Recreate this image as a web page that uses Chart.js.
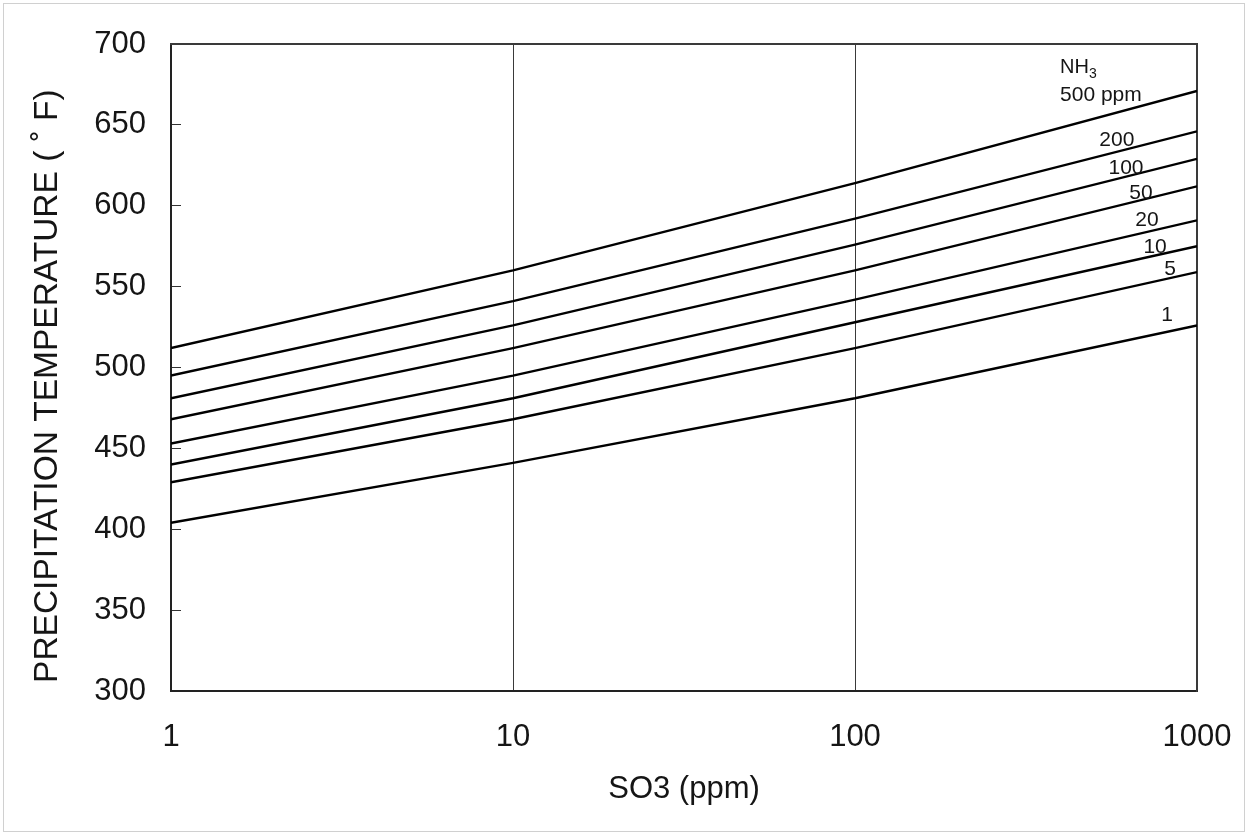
<!DOCTYPE html>
<html>
<head>
<meta charset="utf-8">
<script src="https://cdn.jsdelivr.net/npm/chart.js@4.4.1/dist/chart.umd.min.js"></script>
<style>
  html, body { margin: 0; padding: 0; background: #ffffff; }
  #wrap { position: relative; width: 1249px; height: 836px; }
  #frame { position: absolute; left: 3px; top: 3px; width: 1240px; height: 827px;
           border: 1px solid #d0d0d0; pointer-events: none; }
  canvas { display: block; }
</style>
</head>
<body>
<div id="wrap">
  <canvas id="chart" width="1249" height="836"></canvas>
  <div id="frame"></div>
</div>
<script>
// SO3 concentration (ppm) on the log axis
const so3Ppm = [1, 10, 100, 1000];

// Precipitation temperature (°F) for each NH3 concentration
const nh3_500 = [512, 560, 614, 671];
const nh3_200 = [495, 541, 592, 646];
const nh3_100 = [481, 526, 576, 629];
const nh3_50  = [468, 512, 560, 612];
const nh3_20  = [453, 495, 542, 591];
const nh3_10  = [440, 481, 528, 575];
const nh3_5   = [429, 468, 512, 559];
const nh3_1   = [404, 441, 481, 526];

const yTicks = [300, 350, 400, 450, 500, 550, 600, 650, 700];
const xTicks = [1, 10, 100, 1000];

const seriesNames = ['500 ppm', '200', '100', '50', '20', '10', '5', '1'];
const seriesValues = [nh3_500, nh3_200, nh3_100, nh3_50, nh3_20, nh3_10, nh3_5, nh3_1];

// curve labels, anchored in data coordinates (SO3 ppm, °F)
const curveLabels = [
  { text: '200', x: 583, y: 640.4 },
  { text: '100', x: 620, y: 623.1 },
  { text: '50',  x: 686, y: 607.9 },
  { text: '20',  x: 714, y: 591.2 },
  { text: '10',  x: 754, y: 574.5 },
  { text: '5',   x: 834, y: 560.9 },
  { text: '1',   x: 817, y: 532.4 }
];
const headerLabel = { x: 397.7, yTop: 685.2, yBottom: 668.5 };

const FONT = "'Liberation Sans', Arial, sans-serif";
const INK = '#151515';

const datasets = seriesNames.map((name, i) => ({
  label: name,
  data: so3Ppm.map((x, j) => ({ x: x, y: seriesValues[i][j] })),
  borderColor: '#000000',
  borderWidth: 2.4,
  pointRadius: 0,
  fill: false,
  tension: 0
}));

const curveLabelPlugin = {
  id: 'curveLabels',
  afterDatasetsDraw(chart) {
    const ctx = chart.ctx;
    const xs = chart.scales.x, ys = chart.scales.y;
    ctx.save();
    ctx.fillStyle = INK;
    ctx.font = '21px ' + FONT;
    ctx.textAlign = 'center';
    ctx.textBaseline = 'middle';
    curveLabels.forEach(l => {
      ctx.fillText(l.text, xs.getPixelForValue(l.x), ys.getPixelForValue(l.y));
    });
    // NH3 / 500 ppm header
    const hx = xs.getPixelForValue(headerLabel.x);
    ctx.textAlign = 'left';
    ctx.font = '20px ' + FONT;
    const ty = ys.getPixelForValue(headerLabel.yTop);
    ctx.fillText('NH', hx, ty);
    const w = ctx.measureText('NH').width;
    ctx.font = '14px ' + FONT;
    ctx.fillText('3', hx + w, ty + 6);
    ctx.font = '21px ' + FONT;
    ctx.fillText('500 ppm', hx, ys.getPixelForValue(headerLabel.yBottom));
    ctx.restore();
  }
};

// fixed axis box sizes; labels may overhang the plot edges without shrinking it
const fixBox = (w, h) => s => {
  if (w !== null) s.width = w;
  if (h !== null) s.height = h;
  s.paddingTop = 0; s.paddingBottom = 0; s.paddingLeft = 0; s.paddingRight = 0;
};

new Chart(document.getElementById('chart'), {
  type: 'line',
  data: { datasets: datasets },
  options: {
    responsive: false,
    devicePixelRatio: 1,
    animation: false,
    layout: { padding: { top: 44, right: 52, bottom: 0, left: 0 } },
    plugins: { legend: { display: false }, tooltip: { enabled: false } },
    scales: {
      x: {
        type: 'logarithmic',
        position: 'bottom',
        min: 1,
        max: 1000,
        afterBuildTicks: s => { s.ticks = xTicks.map(v => ({ value: v })); },
        afterFit: fixBox(null, 145),
        ticks: {
          autoSkip: false,
          maxRotation: 0,
          padding: 28,
          color: INK,
          font: { family: FONT, size: 31 },
          callback: v => String(v)
        },
        grid: { color: '#3a3a3a', lineWidth: 1, drawTicks: false },
        border: { color: '#222222', width: 2 },
        title: {
          display: true,
          text: 'SO3 (ppm)',
          color: INK,
          font: { family: FONT, size: 31 },
          padding: { top: 0, bottom: 28 }
        }
      },
      y: {
        type: 'linear',
        position: 'left',
        min: 300,
        max: 700,
        afterBuildTicks: s => { s.ticks = yTicks.map(v => ({ value: v })); },
        afterFit: fixBox(171, null),
        ticks: {
          padding: 35,
          color: INK,
          font: { family: FONT, size: 31 }
        },
        grid: { drawOnChartArea: false, drawTicks: true, tickLength: -10, color: '#333333', lineWidth: 1 },
        border: { color: '#222222', width: 2 },
        title: {
          display: true,
          text: 'PRECIPITATION TEMPERATURE ( ˚ F)    ',
          color: INK,
          font: { family: FONT, size: 33.5 },
          padding: { top: 28, bottom: 0 }
        }
      },
      xTop: {
        type: 'logarithmic',
        position: 'top',
        min: 1,
        max: 1000,
        afterFit: fixBox(null, 0),
        ticks: { display: false },
        grid: { display: false, drawTicks: false },
        border: { display: true, color: '#3a3a3a', width: 2 }
      },
      yRight: {
        type: 'linear',
        position: 'right',
        min: 300,
        max: 700,
        afterFit: fixBox(0, null),
        ticks: { display: false },
        grid: { display: false, drawTicks: false },
        border: { display: true, color: '#3a3a3a', width: 1.5 }
      }
    }
  },
  plugins: [curveLabelPlugin]
});
</script>
</body>
</html>
